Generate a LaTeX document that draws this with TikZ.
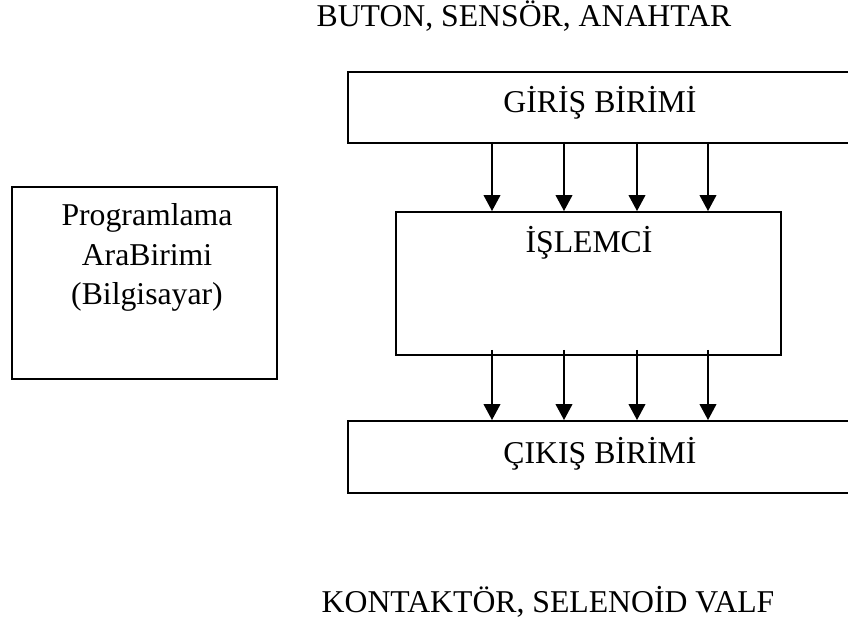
\documentclass[tikz,border=0pt]{standalone}
\usepackage{fontspec}
\setmainfont{Liberation Serif}
\usetikzlibrary{arrows.meta,fit}
\begin{document}
\begin{tikzpicture}[x=0.75pt,y=-0.75pt,
  box/.style={draw=black,line width=1.4pt,inner sep=0pt,rectangle},
  lbl/.style={inner sep=0pt,anchor=base,font=\fontsize{23.8}{28}\selectfont},
  arr/.style={line width=1.4pt,-{Triangle[width=12.5pt,length=12pt]}}]
\useasboundingbox (0,0) rectangle (848,627);
\clip (0,0) rectangle (848,627);
% boxes
\node[box,fit={(348,72) (862,143)}] (giris) {};
\node[box,fit={(396,212) (781,355)}] (islemci) {};
\node[box,fit={(348,421) (862,493)}] (cikis) {};
\node[box,fit={(12,187) (277,379)}] (prog) {};
% texts
\node[lbl] (top) at (524,27) {BUTON, SENSÖR, ANAHTAR};
\node[lbl] (bot) at (548,612) {KONTAKTÖR, SELENOİD VALF};
\node[lbl] (tgiris) at (600,113) {GİRİŞ BİRİMİ};
\node[lbl] (tislemci) at (589,252) {İŞLEMCİ};
\node[lbl] (tcikis) at (600,463) {ÇIKIŞ BİRİMİ};
\node[lbl] (p1) at (147,225) {Programlama};
\node[lbl] (p2) at (147,265) {AraBirimi};
\node[lbl] (p3) at (147,304) {(Bilgisayar)};
% arrow columns
\foreach \i/\x in {1/492,2/564,3/637,4/708}{
  \coordinate (c\i) at (\x,0);
  \draw[arr] ([yshift=1.5pt]giris.south -| c\i) -- (islemci.north -| c\i);
  \draw[arr] ([yshift=4.5pt]islemci.south -| c\i) -- (cikis.north -| c\i);
}
\end{tikzpicture}
\end{document}
